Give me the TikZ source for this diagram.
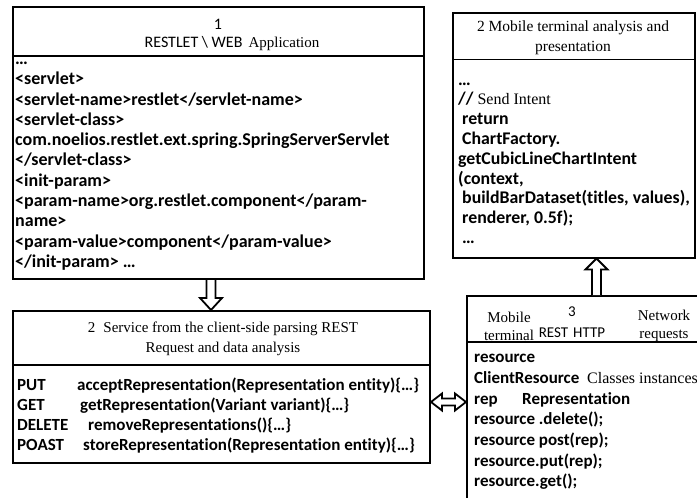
\documentclass[tikz,border=0pt]{standalone}
\usepackage{fontspec}
\setmainfont{Liberation Serif}
\setsansfont[Ligatures=NoCommon]{Carlito}
\usepackage{tikz}
\tikzstyle{frame} = [rectangle, draw, line width=2pt, inner sep=0pt]
\tikzstyle{sep} = [draw, line width=1.2pt]
\tikzstyle{head} = [align=center, inner sep=0pt, font=\fontsize{15}{20}\selectfont]
\tikzstyle{code} = [align=left, inner sep=0pt, anchor=north west,
    font=\fontsize{17}{20.3}\selectfont\sffamily\bfseries]
\tikzstyle{hollow} = [draw, line width=1.8pt, fill=white, line join=miter]

\begin{document}
\begin{tikzpicture}[x=1pt, y=-1pt]
   \useasboundingbox (0,0) rectangle (697,498);
   \clip (0,0) rectangle (697,498);

   % frames
   \node [frame, minimum width=411pt, minimum height=272pt] (web) at (218.5,143) {};
   \node [frame, minimum width=242pt, minimum height=245pt] (mobile) at (574,135) {};
   \node [frame, minimum width=417pt, minimum height=152pt] (service) at (221.5,387) {};
   \node [frame, minimum width=253pt, minimum height=225pt] (rest) at (593.5,408.5) {};

   \path [sep] ([yshift=-50pt]web.north west) -- ([yshift=-50pt]web.north east);
   \path [sep] ([yshift=-48pt]mobile.north west) -- ([yshift=-48pt]mobile.north east);
   \path [sep] ([yshift=-55pt]service.north west) -- ([yshift=-55pt]service.north east);
   \path [sep] ([yshift=-47pt]rest.north west) -- ([yshift=-47pt]rest.north east);

   % headers
   \node [head, font=\fontsize{16}{20}\selectfont\sffamily] (webnum) at (218,24) {1};
   \node [head] (webtitle) at (232,44)
      {{\fontsize{16}{20}\selectfont\sffamily RESTLET \textbackslash{} WEB}\hspace{6pt}Application};
   \node [head, font=\fontsize{15.5}{20}\selectfont] (mobiletitle) at (573,38)
      {2 Mobile terminal analysis and\\presentation};
   \node [head] (servicetitle) at (223,339)
      {2\hspace{8pt}Service from the client-side parsing REST\\Request and data analysis};
   \node [head, font=\fontsize{15}{18}\selectfont] (restleft) at (509,326) {Mobile\\terminal};
   \node [head, font=\fontsize{15}{21}\selectfont\sffamily] (restmid) at (572,322)
      {3\\REST\hspace{5pt}HTTP};
   \node [head, font=\fontsize{15}{18}\selectfont] (restright) at (664,326) {Network\\requests};

   % code
   \node [code, font=\fontsize{18}{20.3}\selectfont\sffamily\bfseries] (webcode) at (15,50)
      {\strut…\\
      <servlet>\\
      <servlet-name>restlet</servlet-name>\\
      <servlet-class>\\
      com.noelios.restlet.ext.spring.SpringServerServlet\\
      </servlet-class>\\
      <init-param>\\
      <param-name>org.restlet.component</param-\\
      name>\\
      <param-value>component</param-value>\\
      </init-param> …};
   \node [code, font=\fontsize{17.8}{19.8}\selectfont\sffamily\bfseries] (mobilecode) at (458,71)
      {\strut…\\
      // {\mdseries\rmfamily\fontsize{16}{19.8}\selectfont Send Intent}\\
      \ return\\
      \ ChartFactory.\\
      getCubicLineChartIntent\\
      (context,\\
      \ buildBarDataset(titles, values),\\
      \ renderer, 0.5f);\\
      \ …};
   \node [code, font=\fontsize{17}{20}\selectfont\sffamily\bfseries] (servicecode) at (17,376)
      {\strut\makebox[60pt][l]{PUT}acceptRepresentation(Representation entity)\{…\}\\
      \makebox[63pt][l]{GET}getRepresentation(Variant variant)\{…\}\\
      \makebox[71pt][l]{DELETE}removeRepresentations()\{…\}\\
      \makebox[66pt][l]{POAST}storeRepresentation(Representation entity)\{…\}};
   \node [code, font=\fontsize{17}{20.7}\selectfont\sffamily\bfseries] (restcode) at (474,348)
      {\strut resource\\
      ClientResource {\mdseries\rmfamily\fontsize{16}{20.7}\selectfont\ Classes instances}\\
      \makebox[48pt][l]{rep}Representation\\
      resource .delete();\\
      resource post(rep);\\
      resource.put(rep);\\
      resource.get();};

   % arrows
   \coordinate (downtail) at ([xshift=-7.5pt]web.south);
   \coordinate (downtip) at (downtail |- service.north);
   \coordinate (uptail) at ([xshift=3pt]rest.north);
   \coordinate (uptip) at (uptail |- mobile.south);
   \coordinate (mid) at (0,402);
   \coordinate (lefttip) at (service.east |- mid);
   \coordinate (righttip) at (rest.west |- mid);

   \path [hollow] ([xshift=-4.5pt]downtail) -- ([xshift=-4.5pt,yshift=12pt]downtip)
      -- ([xshift=-11pt,yshift=12pt]downtip) -- (downtip) -- ([xshift=11pt,yshift=12pt]downtip)
      -- ([xshift=4.5pt,yshift=12pt]downtip) -- ([xshift=4.5pt]downtail);
   \path [hollow] ([xshift=-4.5pt]uptail) -- ([xshift=-4.5pt,yshift=-11pt]uptip)
      -- ([xshift=-11pt,yshift=-11pt]uptip) -- (uptip) -- ([xshift=11pt,yshift=-11pt]uptip)
      -- ([xshift=4.5pt,yshift=-11pt]uptip) -- ([xshift=4.5pt]uptail);
   \path [hollow] (lefttip) -- ([xshift=11pt,yshift=8.5pt]lefttip) -- ([xshift=11pt,yshift=3.5pt]lefttip)
      -- ([xshift=-11pt,yshift=3.5pt]righttip) -- ([xshift=-11pt,yshift=8.5pt]righttip) -- (righttip)
      -- ([xshift=-11pt,yshift=-8.5pt]righttip) -- ([xshift=-11pt,yshift=-3.5pt]righttip)
      -- ([xshift=11pt,yshift=-3.5pt]lefttip) -- ([xshift=11pt,yshift=-8.5pt]lefttip) -- cycle;
\end{tikzpicture}
\end{document}
